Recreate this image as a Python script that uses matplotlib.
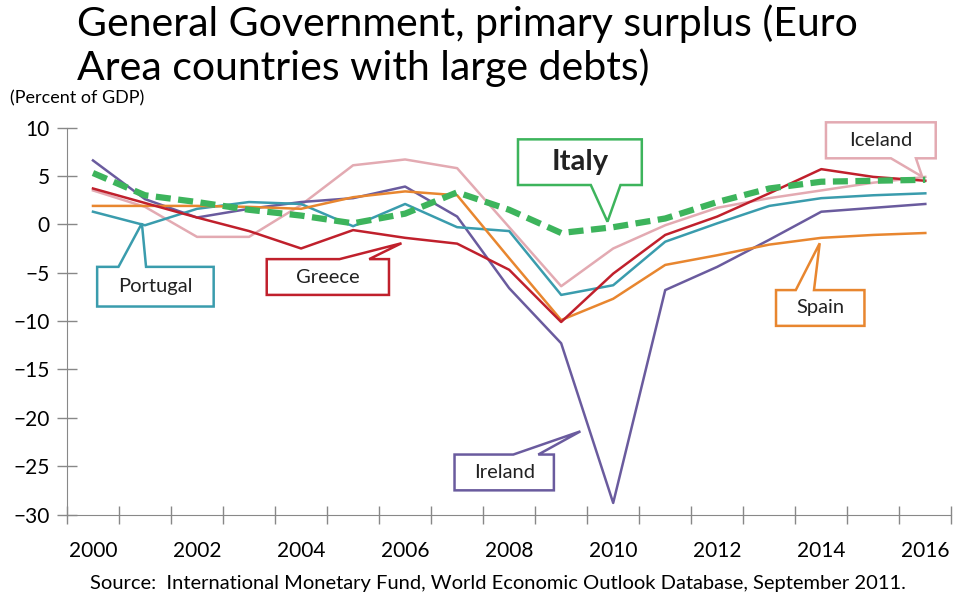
import matplotlib.pyplot as plt
import numpy as np
from matplotlib.patches import Polygon

plt.rcParams['font.family'] = ['Lato', 'DejaVu Sans']

# data (percent of GDP)
years = list(range(2000, 2017))
ireland = [6.6, 2.6, 0.7, 1.6, 2.3, 2.7, 3.9, 0.8, -6.6, -12.3, -28.8, -6.8, -4.4, -1.6, 1.3, 1.7, 2.1]
portugal = [1.3, -0.1, 1.6, 2.3, 2.1, -0.2, 2.1, -0.3, -0.7, -7.3, -6.3, -1.8, 0.1, 1.9, 2.7, 3.0, 3.2]
greece = [3.7, 2.2, 0.7, -0.7, -2.5, -0.6, -1.4, -2.0, -4.7, -10.1, -5.1, -1.1, 0.8, 3.2, 5.7, 4.9, 4.5]
iceland = [3.5, 1.8, -1.3, -1.3, 2.0, 6.1, 6.7, 5.8, -0.3, -6.4, -2.5, -0.1, 1.7, 2.7, 3.5, 4.3, 4.9]
spain = [1.9, 1.9, 1.9, 1.8, 1.6, 2.8, 3.4, 3.0, -3.5, -9.9, -7.7, -4.2, -3.2, -2.1, -1.4, -1.1, -0.9]
italy = [5.3, 3.0, 2.3, 1.5, 0.9, 0.1, 1.1, 3.3, 1.5, -0.9, -0.3, 0.6, 2.3, 3.7, 4.4, 4.5, 4.6]

c_ireland = '#6a5b9e'
c_portugal = '#3a9cad'
c_greece = '#c0202c'
c_iceland = '#e3aab2'
c_spain = '#e8862f'
c_italy = '#3db45c'

fig = plt.figure(figsize=(9.54, 5.96), dpi=100)
ax = fig.add_axes([0.0702, 0.1367, 0.927, 0.6493])

ax.plot(years, iceland, color=c_iceland, lw=1.8)
ax.plot(years, ireland, color=c_ireland, lw=1.8)
ax.plot(years, portugal, color=c_portugal, lw=1.8)
ax.plot(years, spain, color=c_spain, lw=1.8)
ax.plot(years, greece, color=c_greece, lw=1.8)
ax.plot(years, italy, color=c_italy, lw=4.5, dashes=(2.4, 1.2))

ax.set_xlim(1999.5, 2016.5)
ax.set_ylim(-30, 10)

# category boundaries as tick marks, labels at even years
ax.set_xticks(np.arange(1999.5, 2017, 1))
ax.set_xticklabels([])
ax.set_xticks(years[::2], minor=True)
ax.set_xticklabels([str(y) for y in years[::2]], minor=True, fontsize=15)
ax.tick_params(axis='x', which='major', direction='inout', length=13, color='#888888', width=1)
ax.tick_params(axis='x', which='minor', length=0, pad=19)
ax.set_yticks(np.arange(-30, 11, 5))
ax.tick_params(axis='y', direction='inout', length=15, color='#888888', width=1, labelsize=15, pad=5)

for s in ['top', 'right']:
    ax.spines[s].set_visible(False)
for s in ['left', 'bottom']:
    ax.spines[s].set_color('#888888')


def callout(box, base, tip, color, text, **kw):
    x0, x1, y0, y1 = box
    b0, b1 = base
    # wedge on top or bottom edge depending on tip position
    if tip[1] > y1:
        pts = [(x0, y0), (x1, y0), (x1, y1), (b1, y1), tip, (b0, y1), (x0, y1)]
    else:
        pts = [(x0, y0), (b0, y0), tip, (b1, y0), (x1, y0), (x1, y1), (x0, y1)]
    poly = Polygon(pts, closed=True, facecolor='white', edgecolor=color, lw=1.8,
                   zorder=5, clip_on=False)
    ax.add_patch(poly)
    ax.text((x0 + x1) / 2, (y0 + y1) / 2, text, ha='center', va='center', zorder=6,
            color='#222222', **kw)


callout((2000.08, 2002.32, -8.5, -4.4), (2000.49, 2001.02), (2000.94, 0.1), c_portugal, 'Portugal', fontsize=14.5)
callout((2003.34, 2005.69, -7.3, -3.6), (2004.74, 2005.31), (2005.93, -1.96), c_greece, 'Greece', fontsize=14.5)
callout((2006.95, 2008.86, -27.5, -23.8), (2008.08, 2008.56), (2009.37, -21.4), c_ireland, 'Ireland', fontsize=14.5)
callout((2013.13, 2014.83, -10.5, -6.8), (2013.51, 2013.86), (2013.97, -1.96), c_spain, 'Spain', fontsize=14.5)
callout((2014.09, 2016.2, 6.82, 10.54), (2015.34, 2015.82), (2015.94, 4.92), c_iceland, 'Iceland', fontsize=14.5)
callout((2008.17, 2010.55, 4.06, 8.78), (2009.57, 2010.14), (2009.89, 0.27), c_italy, 'Italy', fontsize=21, fontweight='bold')

fig.text(77 / 954, 1 - 24 / 596, 'General Government, primary surplus (Euro', fontsize=29.5, va='center', ha='left')
fig.text(77 / 954, 1 - 68 / 596, 'Area countries with large debts)', fontsize=29.5, va='center', ha='left')
fig.text(10 / 954, 1 - 98 / 596, '(Percent of GDP)', fontsize=13, va='center', ha='left')
fig.text(498 / 954, 1 - 583 / 596, 'Source:  International Monetary Fund, World Economic Outlook Database, September 2011.',
         fontsize=14.5, va='center', ha='center')

fig.savefig('out.png', dpi=100)
